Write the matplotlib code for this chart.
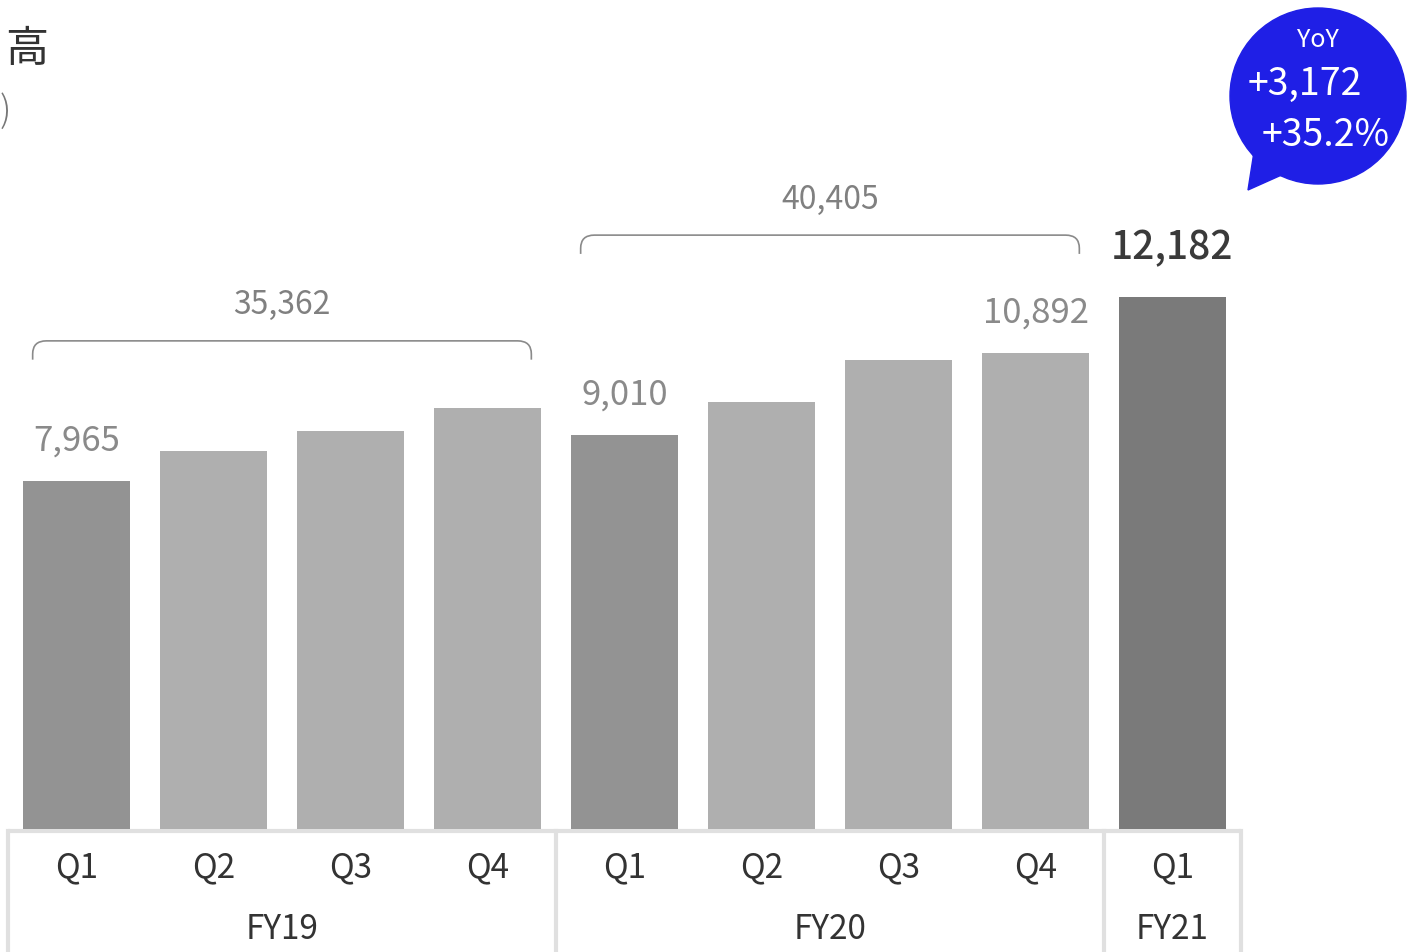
import matplotlib
matplotlib.use("Agg")
import matplotlib.pyplot as plt
from matplotlib.path import Path
from matplotlib.patches import PathPatch, Circle, Polygon

plt.rcParams["font.family"] = ["Noto Sans CJK JP", "DejaVu Sans"]

# data
quarters = ["Q1", "Q2", "Q3", "Q4", "Q1", "Q2", "Q3", "Q4", "Q1"]
years = ["FY19", "FY20", "FY21"]
year_of = [0, 0, 0, 0, 1, 1, 1, 1, 2]
sales = [7965, 8660, 9100, 9637, 9010, 9760, 10743, 10892, 12182]
year_totals = [35362, 40405]
shown = {0: "7,965", 4: "9,010", 7: "10,892"}
yoy_abs = "+3,172"
yoy_pct = "+35.2%"

bar_colors = ["#939393", "#afafaf", "#afafaf", "#afafaf",
              "#939393", "#afafaf", "#afafaf", "#afafaf", "#7a7a7a"]

W, H = 1409, 953
fig = plt.figure(figsize=(W / 100, H / 100), dpi=100)
ax = fig.add_axes([0, 0, 1, 1])
ax.axis("off")
step, x0px, base_px, ppu = 137.0, 76.5, 830.0, 0.0437
ax.set_xlim(-x0px / step, (W - x0px) / step)
ax.set_ylim(-(H - base_px) / ppu, base_px / ppu)

xs = list(range(len(sales)))
ax.bar(xs, sales, width=0.78, color=bar_colors, zorder=2)

# value labels
for i, txt in shown.items():
    ax.text(xs[i], sales[i] + 540, txt, ha="center", va="bottom",
            fontsize=25, color="#8a8a8a")
ax.text(xs[8], sales[8] + 680, "12,182", ha="center", va="bottom",
        fontsize=28, color="#3a3a3a", fontweight="medium")

# brackets with year totals
def bracket(xa, xb, y, drop=430, rx=0.1, ry=300):
    verts = [(xa, y - drop), (xa, y - ry), (xa, y), (xa + rx, y),
             (xb - rx, y), (xb, y), (xb, y - ry), (xb, y - drop)]
    codes = [Path.MOVETO, Path.LINETO, Path.CURVE3, Path.CURVE3,
             Path.LINETO, Path.CURVE3, Path.CURVE3, Path.LINETO]
    ax.add_patch(PathPatch(Path(verts, codes), fc="none", ec="#8a8a8a", lw=1.2))

bracket_y = [11170, 13590]
for g, tot in enumerate(year_totals):
    idx = [i for i in xs if year_of[i] == g]
    bracket(idx[0] - 0.32, idx[-1] + 0.32, bracket_y[g])
    ax.text((idx[0] + idx[-1]) / 2, bracket_y[g] + 470, f"{tot:,}",
            ha="center", va="bottom", fontsize=23, color="#808080")

# category frame
line_y = -50
ax.plot([-0.5, 8.5], [line_y, line_y], color="#e0e0e0", lw=3, zorder=1,
        solid_capstyle="butt")
for sx in [-0.5, 3.5, 7.5, 8.5]:
    ax.plot([sx, sx], [line_y, -3000], color="#e0e0e0", lw=3, zorder=1)

for i, q in enumerate(quarters):
    ax.text(xs[i], -870, q, ha="center", va="center", fontsize=24, color="#333333")
for g, name in enumerate(years):
    idx = [i for i in xs if year_of[i] == g]
    ax.text((idx[0] + idx[-1]) / 2, -2280, name, ha="center", va="center",
            fontsize=24, color="#333333")

# pixel overlay for title fragments and YoY bubble
ov = fig.add_axes([0, 0, 1, 1], facecolor="none")
ov.axis("off")
ov.set_xlim(0, W)
ov.set_ylim(H, 0)
ov.text(5, 50, "高", ha="left", va="center", fontsize=31, color="#333333")
ov.text(0, 112, ")", ha="left", va="center", fontsize=26, color="#777777",
        fontweight="light")

blue = "#1f1fe6"
ov.add_patch(Circle((1318, 97), 88, color=blue))
ov.add_patch(Polygon([(1256, 140), (1248, 191), (1295, 170)], color=blue))
ov.text(1318, 40, "YoY", ha="center", va="center", fontsize=18, color="white")
ov.text(1305, 84, yoy_abs, ha="center", va="center", fontsize=27, color="white")
ov.text(1326, 135, yoy_pct, ha="center", va="center", fontsize=27, color="white")

fig.savefig("out.png", dpi=100)
